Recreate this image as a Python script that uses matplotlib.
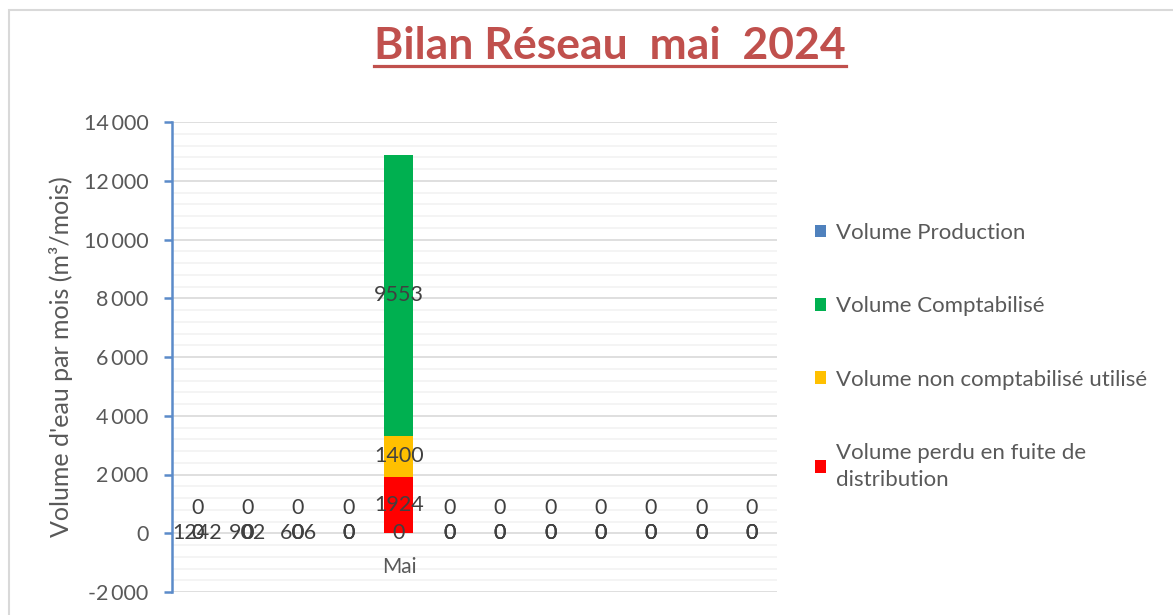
import matplotlib
matplotlib.use("Agg")
import matplotlib.pyplot as plt
import numpy as np
from matplotlib.lines import Line2D
from matplotlib.patches import Rectangle
from matplotlib.ticker import FuncFormatter, MultipleLocator

# --- data (m3 per month) ---
categories = ["", "", "", "", "Mai", "", "", "", "", "", "", ""]
production = [1242, 902, 606, 0, 0, 0, 0, 0, 0, 0, 0, 0]
perdu = [0, 0, 0, 0, 1924, 0, 0, 0, 0, 0, 0, 0]
non_compta = [0, 0, 0, 0, 1400, 0, 0, 0, 0, 0, 0, 0]
compta = [0, 0, 0, 0, 9553, 0, 0, 0, 0, 0, 0, 0]

names = ["Volume Production", "Volume Comptabilisé",
         "Volume non comptabilisé utilisé",
         "Volume perdu en fuite de\ndistribution"]
colors = {"prod": "#4F81BD", "compta": "#00B050", "nc": "#FFC000", "perdu": "#FF0000"}

plt.rcParams["font.family"] = ["Lato", "DejaVu Sans"]
TXT = "#595959"
LBL = "#404040"

fig = plt.figure(figsize=(11.73, 6.15), dpi=100)
ax = fig.add_axes([172 / 1173, 23 / 615, 605 / 1173, 470 / 615])

x = np.arange(len(categories))
w = 0.58
perdu_a = np.array(perdu)
nc_a = np.array(non_compta)
compta_a = np.array(compta)

b_prod = ax.bar(x, production, w, color=colors["prod"], zorder=0, alpha=0)
b_perdu = ax.bar(x, perdu_a, w, color=colors["perdu"])
b_nc = ax.bar(x, nc_a, w, bottom=perdu_a, color=colors["nc"])
b_compta = ax.bar(x, compta_a, w, bottom=perdu_a + nc_a, color=colors["compta"])

# data labels, Excel style (zero "perdu" labels sit a bit above the axis)
fs_lbl = 15.5
for i in x:
    ax.text(i, 0, f"{production[i]}", ha="center", va="center", fontsize=fs_lbl, color=LBL)
    ax.text(i, max(perdu_a[i] / 2, 870), f"{perdu_a[i]}", ha="center", va="center",
            fontsize=fs_lbl, color=LBL)
    ax.text(i, perdu_a[i] + nc_a[i] / 2, f"{nc_a[i]}", ha="center", va="center",
            fontsize=fs_lbl, color=LBL)
    ax.text(i, perdu_a[i] + nc_a[i] + compta_a[i] / 2, f"{compta_a[i]}", ha="center",
            va="center", fontsize=fs_lbl, color=LBL)

ax.set_xlim(-0.5, len(categories) - 0.5)
ax.set_ylim(-2000, 14000)
ax.yaxis.set_major_locator(MultipleLocator(2000))
ax.yaxis.set_minor_locator(MultipleLocator(400))
ax.yaxis.set_major_formatter(FuncFormatter(
    lambda v, _: ("-" if v < 0 else "") + f"{abs(v):,.0f}".replace(",", "\u2009")))
ax.grid(which="major", axis="y", color="#D9D9D9", lw=1.2)
ax.grid(which="minor", axis="y", color="#F2F2F2", lw=1.2)
ax.set_axisbelow(True)
ax.xaxis.set_zorder(3)  # keep "Mai" above the grid

for s in ("top", "right"):
    ax.spines[s].set_visible(False)
ax.spines["bottom"].set_position(("data", 0))
ax.spines["bottom"].set_visible(False)
ax.spines["left"].set_color("#5B8BC9")
ax.spines["left"].set_linewidth(1.8)
ax.tick_params(axis="y", which="major", colors="#5B8BC9", width=1.8, length=6,
               labelcolor=TXT, labelsize=15.5, pad=11)
ax.tick_params(axis="y", which="minor", length=0)
ax.set_xticks(x, categories)
ax.tick_params(axis="x", length=0, labelcolor=TXT, labelsize=15, pad=17)
ax.set_ylabel("Volume d'eau par mois (m³/mois)", fontsize=18, color=TXT, labelpad=8)

ax.legend([b_prod.patches[0], b_compta, b_nc, b_perdu], names,
          loc="upper left", bbox_to_anchor=(795 / 1173, 1 - 203 / 615),
          bbox_transform=fig.transFigure, frameon=False, fontsize=16, labelcolor=TXT,
          handlelength=0.5, handleheight=0.5, handletextpad=0.45, labelspacing=2.4)
leg = ax.get_legend()
leg.legend_handles[0].set_alpha(1)
leg.get_texts()[-1].set_linespacing(1.45)

# outer chart border
fig.add_artist(Rectangle((9 / 1173, -0.1), 2, 1.1 - 10 / 615, transform=fig.transFigure,
                         fill=False, edgecolor="#D9D9D9", lw=1.5))

title = fig.text(610 / 1173, 1 - 46 / 615, "Bilan Réseau  mai  2024", ha="center",
                 va="center", fontsize=32, fontweight="bold", color="#C0504D")
fig.canvas.draw()
bb = title.get_window_extent()
fig.add_artist(Line2D([bb.x0 / 1173, bb.x1 / 1173], [1 - 66 / 615] * 2,
                      transform=fig.transFigure, color="#C0504D", lw=2.3))

fig.savefig("out.png", dpi=100)
